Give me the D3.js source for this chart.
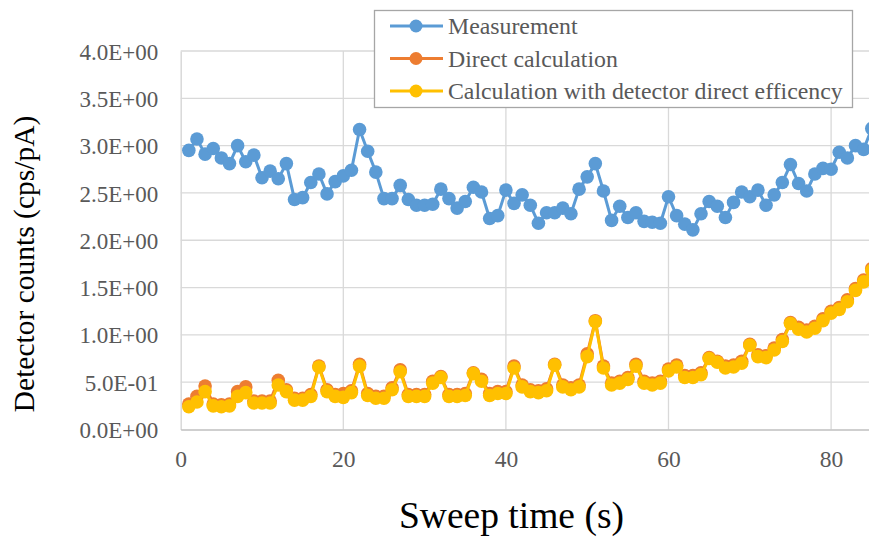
<!DOCTYPE html>
<html>
<head>
<meta charset="utf-8">
<script src="https://cdn.jsdelivr.net/npm/d3@7"></script>
<style>
  html, body { margin: 0; padding: 0; background: #fff; }
  svg { display: block; }
</style>
</head>
<body>
<svg id="chart" width="869" height="543"></svg>
<script>
// Sweep time (s) of each sample
const sweepTime = d3.range(1, 86);

// Detector counts (cps/pA)
const measurement = [
  2.95, 3.07, 2.91, 2.97, 2.87, 2.81, 3.00, 2.83, 2.90, 2.66,
  2.73, 2.65, 2.81, 2.43, 2.45, 2.61, 2.70, 2.49, 2.62, 2.68,
  2.74, 3.17, 2.94, 2.72, 2.44, 2.44, 2.58, 2.43, 2.37, 2.37,
  2.38, 2.54, 2.44, 2.34, 2.41, 2.56, 2.51, 2.23, 2.26, 2.53,
  2.39, 2.48, 2.37, 2.18, 2.29, 2.29, 2.34, 2.28, 2.54, 2.67,
  2.81, 2.52, 2.21, 2.36, 2.24, 2.29, 2.20, 2.19, 2.18, 2.46,
  2.26, 2.17, 2.11, 2.28, 2.41, 2.36, 2.24, 2.40, 2.51, 2.46,
  2.53, 2.37, 2.48, 2.61, 2.80, 2.60, 2.52, 2.70, 2.76, 2.75,
  2.93, 2.87, 3.00, 2.96, 3.18
];

const directCalc = [
  0.27, 0.35, 0.46, 0.27, 0.26, 0.27, 0.40, 0.45, 0.30, 0.30,
  0.30, 0.52, 0.42, 0.33, 0.33, 0.37, 0.67, 0.42, 0.37, 0.38,
  0.41, 0.69, 0.38, 0.35, 0.35, 0.44, 0.63, 0.37, 0.37, 0.37,
  0.51, 0.56, 0.37, 0.37, 0.38, 0.60, 0.53, 0.38, 0.40, 0.40,
  0.67, 0.47, 0.42, 0.41, 0.43, 0.69, 0.47, 0.44, 0.47, 0.80,
  1.15, 0.67, 0.49, 0.51, 0.55, 0.69, 0.51, 0.49, 0.51, 0.64,
  0.68, 0.57, 0.57, 0.60, 0.76, 0.72, 0.67, 0.68, 0.72, 0.90,
  0.79, 0.78, 0.86, 0.95, 1.13, 1.08, 1.05, 1.09, 1.17, 1.25,
  1.29, 1.37, 1.49, 1.58, 1.70
];

const detectorEffCalc = [
  0.24, 0.29, 0.40, 0.25, 0.24, 0.25, 0.35, 0.39, 0.28, 0.28,
  0.28, 0.47, 0.40, 0.31, 0.31, 0.35, 0.66, 0.40, 0.35, 0.34,
  0.39, 0.67, 0.36, 0.33, 0.33, 0.42, 0.61, 0.35, 0.35, 0.35,
  0.49, 0.55, 0.35, 0.35, 0.36, 0.59, 0.51, 0.36, 0.38, 0.38,
  0.65, 0.45, 0.40, 0.39, 0.41, 0.68, 0.45, 0.42, 0.45, 0.77,
  1.14, 0.65, 0.47, 0.49, 0.53, 0.67, 0.49, 0.47, 0.49, 0.62,
  0.66, 0.55, 0.55, 0.58, 0.75, 0.71, 0.65, 0.66, 0.70, 0.89,
  0.77, 0.76, 0.84, 0.93, 1.12, 1.06, 1.03, 1.07, 1.15, 1.23,
  1.27, 1.35, 1.47, 1.56, 1.68
];

const seriesNames = ["Measurement", "Direct calculation", "Calculation with detector direct efficency"];
const seriesColors = ["#5B9BD5", "#ED7D31", "#FFC000"];

const yTicks = [0, 0.5, 1.0, 1.5, 2.0, 2.5, 3.0, 3.5, 4.0];
const yTickLabels = ["0.0E+00", "5.0E-01", "1.0E+00", "1.5E+00", "2.0E+00", "2.5E+00", "3.0E+00", "3.5E+00", "4.0E+00"];
const xTicks = [0, 20, 40, 60, 80];

const svg = d3.select("#chart");
const W = 869, H = 543;
const plotLeft = 180.7, plotTop = 51, plotBottom = 429.5;
const pxPerUnit = 8.13;

const x = d3.scaleLinear().domain([0, 100]).range([plotLeft, plotLeft + 100 * pxPerUnit]);
const y = d3.scaleLinear().domain([0, 4]).range([plotBottom, plotTop]);

const serif = "'Liberation Serif', 'Times New Roman', serif";
const gridColor = "#d9d9d9";
const textColor = "#595959";

// Gridlines
const grid = svg.append("g");
grid.selectAll("line.h").data(yTicks.slice(1)).join("line")
  .attr("class", "h")
  .attr("x1", plotLeft).attr("x2", W)
  .attr("y1", d => y(d)).attr("y2", d => y(d))
  .attr("stroke", gridColor).attr("stroke-width", 1.3);
grid.selectAll("line.v").data(xTicks.slice(1)).join("line")
  .attr("class", "v")
  .attr("x1", d => x(d)).attr("x2", d => x(d))
  .attr("y1", plotTop).attr("y2", plotBottom)
  .attr("stroke", gridColor).attr("stroke-width", 1.3);

// Axes
const yAxis = d3.axisLeft(y).tickValues(yTicks)
  .tickFormat((d, i) => yTickLabels[i]).tickSize(0).tickPadding(22.5);
const gy = svg.append("g").attr("transform", `translate(${plotLeft},0)`).call(yAxis);
gy.select(".domain").attr("stroke", gridColor).attr("stroke-width", 1.5);
gy.selectAll("text").attr("font-family", serif).attr("font-size", 23)
  .attr("fill", textColor).attr("dy", "0.35em");

const xAxis = d3.axisBottom(x).tickValues(xTicks).tickSize(0).tickPadding(20.5);
const gx = svg.append("g").attr("transform", `translate(0,${plotBottom})`).call(xAxis);
gx.select(".domain").attr("stroke", "#bfbfbf").attr("stroke-width", 1.5);
gx.selectAll("text").attr("font-family", serif).attr("font-size", 23.5)
  .attr("fill", textColor);

// Axis titles
svg.append("text")
  .attr("transform", `translate(34,264) rotate(-90)`)
  .attr("text-anchor", "middle")
  .attr("font-family", serif).attr("font-size", 29.5).attr("fill", "#000")
  .text("Detector counts (cps/pA)");
svg.append("text")
  .attr("x", 511.5).attr("y", 528)
  .attr("text-anchor", "middle")
  .attr("font-family", serif).attr("font-size", 37.5).attr("fill", "#000")
  .text("Sweep time (s)");

// Series
const seriesData = [measurement, directCalc, detectorEffCalc];
const line = d3.line().x((d, i) => x(sweepTime[i])).y(d => y(d));
const plot = svg.append("g");
seriesData.forEach((vals, k) => {
  const g = plot.append("g");
  g.append("path").datum(vals)
    .attr("d", line).attr("fill", "none")
    .attr("stroke", seriesColors[k]).attr("stroke-width", 3)
    .attr("stroke-linejoin", "round");
  g.selectAll("circle").data(vals).join("circle")
    .attr("cx", (d, i) => x(sweepTime[i])).attr("cy", d => y(d))
    .attr("r", 6.8).attr("fill", seriesColors[k]);
});

// Legend
const lg = svg.append("g");
lg.append("rect").attr("x", 374.5).attr("y", 10.5).attr("width", 478).attr("height", 97)
  .attr("fill", "#fff").attr("stroke", "#a6a6a6").attr("stroke-width", 1.3);
seriesNames.forEach((name, k) => {
  const cy = 26 + k * 32.5;
  lg.append("line").attr("x1", 390).attr("x2", 443).attr("y1", cy).attr("y2", cy)
    .attr("stroke", seriesColors[k]).attr("stroke-width", 3);
  lg.append("circle").attr("cx", 416).attr("cy", cy).attr("r", 6.5).attr("fill", seriesColors[k]);
  lg.append("text").attr("x", 448).attr("y", cy).attr("dy", "0.35em")
    .attr("font-family", serif).attr("font-size", 23.8).attr("fill", textColor)
    .text(name);
});
</script>
</body>
</html>
